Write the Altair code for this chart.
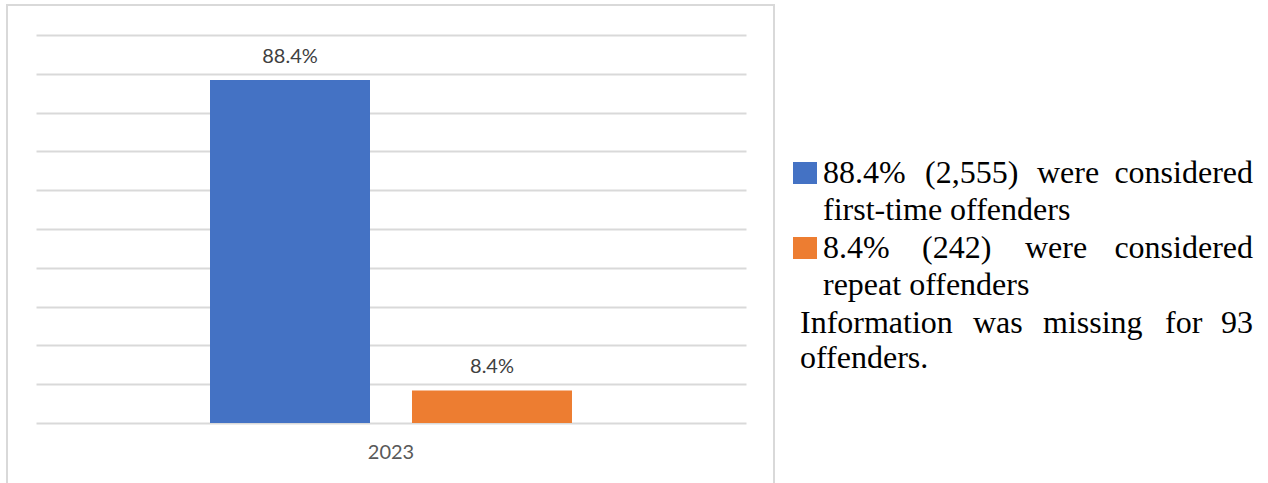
import altair as alt
import pandas as pd

# ---- data ----
years = ["2023", "2023"]
series = ["First-time offenders", "Repeat offenders"]
values = [88.4, 8.4]
value_labels = ["88.4%", "8.4%"]
colors = ["#4472C4", "#ED7D31"]

legend_lines = [
    "88.4% (2,555) were considered",
    "first-time offenders",
    "8.4% (242) were considered",
    "repeat offenders",
    "Information was missing for 93",
    "offenders.",
]

df = pd.DataFrame({"year": years, "series": series, "value": values, "label": value_labels})

# ---- layout ----
OX, OY = 36, 35          # plot origin in page pixels
W, H = 710, 388
TOTAL_W, TOTAL_H = 1268, 483

def px(x):
    return x - OX

def py(y):
    return y - OY

x_enc = alt.X("year:N", title=None,
              scale=alt.Scale(paddingInner=0, paddingOuter=0.4807),
              axis=alt.Axis(labelAngle=0, ticks=False, domain=False, labelFont="Lato",
                            labelFontSize=20, labelColor="#595959", labelPadding=19))
xoff_enc = alt.XOffset("series:N", sort=series,
                       scale=alt.Scale(paddingInner=0.2079, paddingOuter=0))
y_enc = alt.Y("value:Q", title=None,
              scale=alt.Scale(domain=[0, 100], nice=False),
              axis=alt.Axis(values=list(range(0, 101, 10)), labels=False, ticks=False,
                            domain=False, grid=True, gridColor="#d9d9d9", gridWidth=2))

base = alt.Chart(df)
bars = base.mark_bar().encode(
    x=x_enc, xOffset=xoff_enc, y=y_enc,
    color=alt.Color("series:N", scale=alt.Scale(domain=series, range=colors), legend=None),
)
labels = base.mark_text(font="Lato", fontSize=20, color="#404040",
                        baseline="alphabetic", dy=-17).encode(
    x=x_enc, xOffset=xoff_enc, y=y_enc, text="label:N")

one = alt.Data(values=[{}])
layers = [bars, labels]

# outer frame
layers.append(alt.Chart(one).mark_rect(fill="transparent", stroke="#d9d9d9", strokeWidth=2).encode(
    x=alt.value(px(7)), x2=alt.value(px(774)), y=alt.value(py(5)), y2=alt.value(py(500))))

# legend swatches
sw_tops = [162, 237]
for c, top in zip(colors, sw_tops):
    layers.append(alt.Chart(one).mark_rect(fill=c).encode(
        x=alt.value(px(793)), x2=alt.value(px(817)),
        y=alt.value(py(top)), y2=alt.value(py(top + 22))))

# legend text (justified lines placed word by word)
baselines = [183, 220, 258, 295, 333, 368]
RIGHT = 1253
word_starts = {
    0: [823, 925, 1037],
    2: [823, 922, 1025],
    4: [800, 973, 1043, 1165],
}
line_left = {1: 823, 3: 823, 5: 800}

def text_layer(t, x, y, align):
    return alt.Chart(one).mark_text(font="Liberation Serif", fontSize=32, color="#000000",
                                    align=align, baseline="alphabetic").encode(
        x=alt.value(px(x)), y=alt.value(py(y)), text=alt.value(t))

for i, line in enumerate(legend_lines):
    if i in word_starts:
        words = line.split(" ")
        starts = word_starts[i]
        for w, s in zip(words[:-1], starts):
            layers.append(text_layer(w, s, baselines[i], "left"))
        layers.append(text_layer(words[-1], RIGHT, baselines[i], "right"))
    else:
        layers.append(text_layer(line, line_left[i], baselines[i], "left"))

chart = alt.layer(*layers).properties(
    width=W, height=H,
    autosize=alt.AutoSizeParams(type="none"),
    padding={"left": OX, "top": OY, "right": TOTAL_W - OX - W, "bottom": TOTAL_H - OY - H},
    background="white",
).configure_view(stroke="transparent")

chart.save("out.html", embed_options={"renderer": "svg", "actions": False})
